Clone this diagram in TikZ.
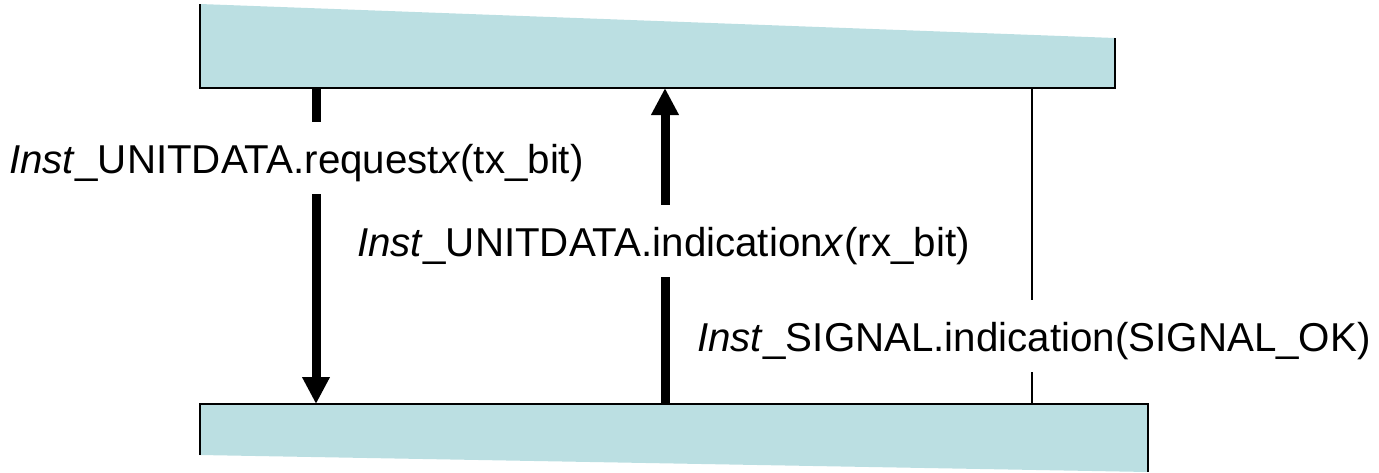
\documentclass[tikz,border=0pt]{standalone}
\usepackage{fontspec}
\setmainfont{Liberation Sans}
\usetikzlibrary{arrows.meta}
\definecolor{layerfill}{RGB}{187,223,226}
\tikzset{
  layer/.style={fill=layerfill, draw=none},
  layeredge/.style={draw=black, line width=2pt, line join=miter},
  shaft/.style={draw=black, line width=9pt},
  bigtip/.style={-{Triangle[width=26pt,length=27pt]}},
  thin/.style={draw=black, line width=2pt},
  prim/.style={anchor=base west, inner sep=0pt, text height=51pt, text depth=21pt,
               font=\fontsize{40.3}{48}\selectfont}
}
\begin{document}
\begin{tikzpicture}[x=1pt,y=-1pt]
  \useasboundingbox (0,0) rectangle (1379,472);

  % upper layer
  \fill[layer] (200,4) -- (1115,38) -- (1115,88) -- (200,88) -- cycle;
  \draw[layeredge] (200,4) -- (200,88) -- (1115,88) -- (1115,38);
  % lower layer
  \fill[layer] (200,404) -- (1148,404) -- (1148,472) -- (200,455) -- cycle;
  \draw[layeredge] (200,455) -- (200,404) -- (1148,404) -- (1148,472);

  % attachment points on the layers
  \coordinate (reqtop) at (316,88);
  \coordinate (reqbot) at (316,404);
  \coordinate (indtop) at (665,88);
  \coordinate (indbot) at (665,404);
  \coordinate (sigtop) at (1032,88);
  \coordinate (sigbot) at (1032,404);

  % primitive labels
  \node[prim] (req) at (9,173) {\textit{Inst}\_UNITDATA.request\textit{x}(tx\_bit)};
  \node[prim] (ind) at (357,256) {\textit{Inst}\_UNITDATA.indication\textit{x}(rx\_bit)};
  \node[prim] (sig) at (697,351) {\textit{Inst}\_SIGNAL.indication(SIGNAL\_OK)};

  % request: downwards
  \draw[shaft] (reqtop) -- (req.north -| reqtop);
  \draw[shaft,bigtip] (req.south -| reqtop) -- (reqbot);
  % indication: upwards
  \draw[shaft] (indbot) -- (ind.south -| indbot);
  \draw[shaft,bigtip] (ind.north -| indbot) -- (indtop);
  % signal line
  \draw[thin] (sigtop) -- (sig.north -| sigtop);
  \draw[thin] (sig.south -| sigbot) -- (sigbot);
\end{tikzpicture}
\end{document}
